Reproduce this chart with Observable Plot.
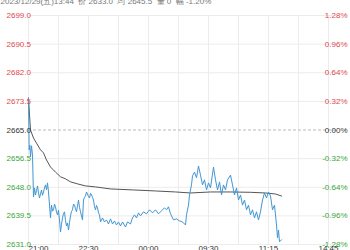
<!DOCTYPE html>
<html><head><meta charset="utf-8">
<script src="https://cdn.jsdelivr.net/npm/d3@7"></script>
<script src="https://cdn.jsdelivr.net/npm/@observablehq/plot@0.6"></script>
<style>body{margin:0;background:#fff;overflow:hidden}</style>
</head><body><div id="c"></div>
<script>
// header (tooltip line)
const headerText = "2023/12/29(五)13:44  价 2633.0  均 2645.5  量 0  幅 -1.20%";
const prevClose = 2665.0;
// y ticks (price) and right-side percent labels
const yTicks = [2699.0, 2690.5, 2682.0, 2673.5, 2665.0, 2656.5, 2648.0, 2639.5, 2631.0];
const pctLabels = ["1.28%", "0.96%", "0.64%", "0.32%", "0.00%", "-0.32%", "-0.64%", "-0.96%", "-1.28%"];
// x ticks in trading minutes from 21:00
const xTickMin = [0, 90, 180, 270, 360, 450];
const xTickLabels = ["21:00", "22:30", "00:00", "09:30", "11:15", "14:45"];
const xGridMin = [0, 45, 90, 135, 180, 225, 270, 315, 360, 405, 450];
const totalMinutes = 465;
// price series: trading minute offsets and prices
const priceT = [0,1,2,3,4.5,6,7.5,9,10.5,12,13.5,15,16.5,18,19.5,21,22.5,24,25.5,27,28.5,30,33,34.5,36,37.5,39,40.5,42,43.5,45,46.5,48,49.5,51,52.5,54,55.5,57,58.5,60,61.5,63,64.5,66,67.5,69,70.5,72,73.5,75,76.5,78,79.5,81,82.5,84,85.5,87,88.5,90,91.5,93,94.5,96,97.5,99,100.5,102,103.5,105,106.5,108,111,114,117,120,123,126,129,132,135,138,141,145.5,148.5,153,156,159,162,165,168,172.5,177,181.5,186,190.5,195,199.5,204,207,210,213,217.5,222,226.5,231,235.5,237,240,241.5,244.5,246,249,252,255,258,261,264,267,270,273,277.5,280.5,283.5,286.5,289.5,292.5,295.5,298.5,303,306,309,312,315,318,321,324,327,330,333,336,339,342,345,348,351,354,357,360,363,366,369,372,373.5,375,376.5,379.5];
const price = [2674.5,2659.1,2660.5,2657.0,2660.3,2657.6,2645.1,2647.8,2645.7,2647.0,2648.4,2646.3,2644.8,2646.0,2647.2,2645.6,2646.6,2647.8,2648.7,2647.3,2649.3,2646.6,2638.9,2642.7,2640.9,2641.3,2643.0,2642.2,2640.6,2639.8,2641.2,2638.3,2634.7,2637.0,2638.9,2640.2,2640.7,2638.1,2636.5,2637.4,2635.3,2637.6,2639.5,2640.8,2641.3,2643.0,2642.7,2641.6,2640.7,2642.5,2644.2,2642.0,2640.7,2639.5,2638.3,2644.2,2645.0,2645.4,2646.6,2646.0,2645.2,2644.8,2646.2,2645.7,2645.0,2644.2,2642.2,2641.3,2642.6,2641.9,2640.4,2639.8,2637.7,2638.9,2637.7,2638.3,2637.1,2638.6,2637.1,2638.0,2636.8,2637.7,2636.5,2637.7,2636.2,2637.7,2637.1,2638.9,2639.8,2638.9,2640.4,2639.5,2640.7,2640.1,2641.3,2640.4,2641.3,2640.1,2641.0,2641.9,2641.3,2642.2,2640.1,2638.3,2638.6,2638.0,2637.7,2636.8,2639.8,2642.7,2645.7,2648.7,2651.4,2652.5,2650.8,2654.3,2651.6,2648.7,2650.2,2647.2,2649.3,2647.8,2654.0,2650.2,2647.2,2649.6,2645.7,2648.7,2647.2,2650.2,2651.6,2648.7,2645.7,2647.8,2644.2,2645.7,2642.7,2644.2,2641.3,2642.7,2639.8,2641.3,2638.9,2640.7,2638.3,2640.7,2644.2,2646.3,2644.8,2646.6,2645.4,2641.3,2642.7,2636.8,2633.0,2635.3,2631.8,2632.4];
// average price series
const avgT = [0,1.5,3,7.5,12,18,22.5,27,33,40.5,48,55.5,63,73.5,85.5,100.5,123,157.5,190.5,220.5,243,273,303,333,355.5,370.5,379.5];
const avg = [2674.5,2669.5,2665.0,2662.6,2661.1,2659.1,2658.2,2656.1,2654.0,2652.5,2651.1,2650.5,2649.6,2649.0,2648.4,2648.1,2647.5,2647.2,2646.9,2646.6,2646.3,2646.6,2646.6,2646.5,2646.3,2646.0,2645.4];

const priceData = priceT.map((t, i) => ({t, v: price[i]}));
const avgData = avgT.map((t, i) => ({t, v: avg[i]}));
const colorOf = v => v > prevClose ? "#e0474c" : v < prevClose ? "#3aa63a" : "#333";
const font = "Liberation Sans, Arial, sans-serif";

const chart = Plot.plot({
  width: 350, height: 250,
  marginLeft: 28, marginRight: 12, marginTop: 15, marginBottom: 6,
  style: {fontFamily: font, fontSize: "8px", background: "#fff", overflow: "visible"},
  x: {domain: [0, totalMinutes], axis: null},
  y: {domain: [2631, 2699], axis: null},
  color: {type: "identity"},
  marks: [
    Plot.ruleX(xGridMin, {x: d => d, stroke: "#ececec", strokeWidth: 1}),
    Plot.ruleY(yTicks.filter(d => d !== prevClose), {y: d => d, stroke: "#ececec", strokeWidth: 1}),
    Plot.ruleY([prevClose], {y: d => d, stroke: "#bbb", strokeDasharray: "3,2", strokeWidth: 1}),
    Plot.line(avgData, {x: "t", y: "v", stroke: "#555", strokeWidth: 1}),
    Plot.line(priceData, {x: "t", y: "v", stroke: "#4296d2", strokeWidth: 1}),
    Plot.text(yTicks, {y: d => d, frameAnchor: "left", dx: -22, textAnchor: "start", text: d => d.toFixed(1), fill: d => colorOf(d), fontSize: 8}),
    Plot.text(yTicks, {y: d => d, frameAnchor: "right", dx: 9, textAnchor: "end", text: (d, i) => pctLabels[i], fill: d => colorOf(d), fontSize: 8}),
    Plot.text(xTickMin, {x: d => d, frameAnchor: "bottom", dy: 6, text: (d, i) => xTickLabels[i], textAnchor: (d, i) => "middle", fill: "#333", fontSize: 8, filter: d => d !== 0}),
    Plot.text(xTickMin.slice(0, 1), {x: d => d, frameAnchor: "bottom", dy: 6, text: () => xTickLabels[0], textAnchor: "start", fill: "#333", fontSize: 8}),
    Plot.text([headerText], {frameAnchor: "top-left", dx: -28, dy: -17, textAnchor: "start", text: d => d, fill: "#777", fontSize: 8})
  ]
});
document.getElementById("c").appendChild(chart);
</script></body></html>
